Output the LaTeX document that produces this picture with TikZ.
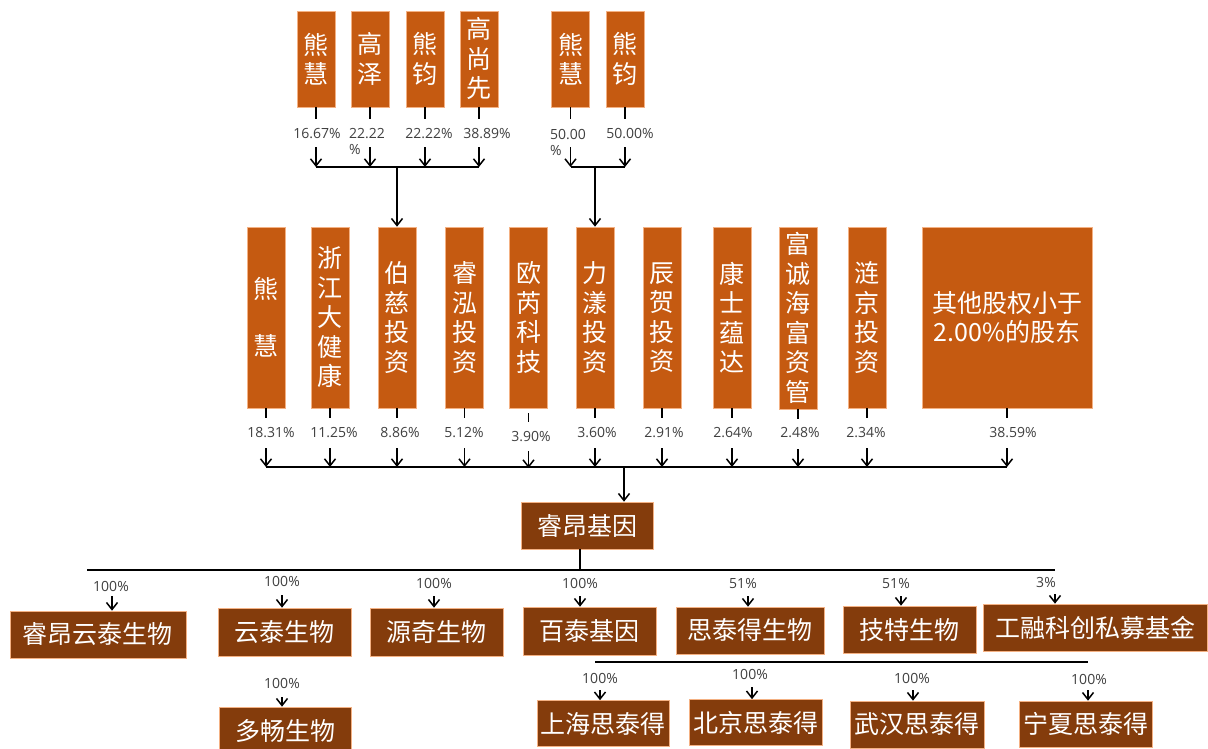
\documentclass[tikz,border=0pt]{standalone}
\usepackage{fontspec}
\setmainfont{Open Sans}
\newfontfamily\cjk{Noto Sans CJK SC}
\usetikzlibrary{arrows.meta}
\definecolor{orgbox}{HTML}{C55A11}
\definecolor{brnbox}{HTML}{843C0C}
\definecolor{edgec}{HTML}{F4B183}
\definecolor{labc}{HTML}{404040}
\tikzset{
 vbox/.style={fill=orgbox, draw=edgec, line width=0.6pt, text=white, inner sep=0pt, align=center, font=\cjk\fontsize{25}{29.5}\selectfont, minimum width=38pt},
 hbox/.style={fill=brnbox, draw=edgec, line width=0.6pt, text=white, inner sep=0pt, font=\cjk\fontsize{25}{29.5}\selectfont},
 pct/.style={text=labc, inner sep=1pt, font=\fontsize{14}{16}\selectfont},
 arr/.style={-{Straight Barb[length=7pt,width=11pt]}, line width=1.5pt},
 tick/.style={line width=1.5pt},
 bar/.style={line width=2pt},
}
\begin{document}
\begin{tikzpicture}[x=1pt,y=1pt]
\useasboundingbox (0,0) rectangle (1208,-749);
\fill[white] (0,0) rectangle (1208,-749);

% ---- top shareholders
\node[vbox, minimum height=96pt] (t1) at (316,-59) {熊\\慧};
\node[vbox, minimum height=96pt] (t2) at (370,-59) {高\\泽};
\node[vbox, minimum height=96pt] (t3) at (425,-59) {熊\\钧};
\node[vbox, minimum height=96pt] (t4) at (479,-59) {高\\尚\\先};
\node[vbox, minimum height=96pt] (t5) at (570.5,-59) {熊\\慧};
\node[vbox, minimum height=96pt] (t6) at (625,-59) {熊\\钧};

\node[pct] (q1) at (317,-134) {16.67\%};
\node[pct, align=left, anchor=west] (q2) at (348,-142) {22.22\\\%};
\node[pct] (q3) at (429,-134) {22.22\%};
\node[pct] (q4) at (487,-134) {38.89\%};
\node[pct, align=left, anchor=west] (q5) at (549,-142) {50.00\\\%};
\node[pct] (q6) at (630,-134) {50.00\%};

\coordinate (yA) at (0,-167);
\foreach \n in {t1,t2,t3,t4,t5,t6}{
  \draw[tick] (\n.south) -- ++(0,-12);
  \draw[arr] ([yshift=-40pt]\n.south) -- (\n.south |- yA);
}
\draw[bar, line width=1.7pt] (t1.south |- yA) -- (t4.south |- yA);
\draw[bar, line width=1.7pt] (t5.south |- yA) -- (t6.south |- yA);

% ---- middle shareholders
\node[vbox, minimum height=181pt] (m1) at (266,-317.5) {熊\\[27.5pt]慧};
\node[vbox, minimum height=181pt] (m2) at (330,-317.5) {浙\\江\\大\\健\\康};
\node[vbox, minimum height=181pt] (m3) at (397,-317.5) {伯\\慈\\投\\资};
\node[vbox, minimum height=181pt] (m4) at (464.5,-317.5) {睿\\泓\\投\\资};
\node[vbox, minimum height=181pt] (m5) at (528.5,-317.5) {欧\\芮\\科\\技};
\node[vbox, minimum height=181pt] (m6) at (595,-317.5) {力\\漾\\投\\资};
\node[vbox, minimum height=181pt] (m7) at (662,-317.5) {辰\\贺\\投\\资};
\node[vbox, minimum height=181pt] (m8) at (732,-317.5) {康\\士\\蕴\\达};
\node[vbox, minimum height=182pt] (m9) at (798,-318) {富\\诚\\海\\富\\资\\管};
\node[vbox, minimum height=181pt] (m10) at (867,-317.5) {涟\\京\\投\\资};
\node[vbox, minimum height=181pt, minimum width=170pt] (m11) at (1007,-317.5) {其他股权小于\\2.00\%的股东};

\draw[arr] (m3.north |- yA) -- (m3.north);
\draw[arr] (m6.north |- yA) -- (m6.north);

\node[pct] (n1) at (271,-433) {18.31\%};
\node[pct] (n2) at (334,-433) {11.25\%};
\node[pct] (n3) at (400,-433) {8.86\%};
\node[pct] (n4) at (464,-433) {5.12\%};
\node[pct] (n5) at (531,-437) {3.90\%};
\node[pct] (n6) at (597,-433) {3.60\%};
\node[pct] (n7) at (664,-433) {2.91\%};
\node[pct] (n8) at (733,-433) {2.64\%};
\node[pct] (n9) at (800,-433) {2.48\%};
\node[pct] (n10) at (866,-433) {2.34\%};
\node[pct] (n11) at (1013,-433) {38.59\%};

\coordinate (yM) at (0,-467);
\foreach \n in {m1,m2,m3,m4,m6,m7,m8,m9,m10,m11}{
  \draw[tick] (\n.south) -- ++(0,-10);
  \draw[arr] ([yshift=-40pt]\n.south) -- (\n.south |- yM);
}
\draw[tick] ([yshift=-5pt]m5.south) -- ++(0,-9);
\draw[arr] ([yshift=-43pt]m5.south) -- ([yshift=-1pt]m5.south |- yM);
\draw[bar] (m1.south |- yM) -- (m11.south |- yM);

% ---- company
\node[hbox, minimum width=132pt, minimum height=47pt] (r) at (587,-525.5) {睿昂基因};
\coordinate (jr) at (624,-467);
\draw[arr] (jr) -- (jr |- r.north);

\coordinate (jb) at (580,-570);
\draw[tick, line width=1.7pt] (jb |- r.south) -- (jb);
\coordinate (bL) at (87,-570);
\coordinate (bR) at (1055,-570);
\draw[bar] (bL) -- (bR);

% ---- subsidiaries
\node[hbox, minimum width=176pt, minimum height=47pt] (c1) at (98,-634.5) {睿昂云泰生物};
\node[hbox, minimum width=133pt, minimum height=48pt] (c2) at (284.5,-632) {云泰生物};
\node[hbox, minimum width=133pt, minimum height=48pt] (c3) at (436.5,-632) {源奇生物};
\node[hbox, minimum width=133pt, minimum height=48pt] (c4) at (589.5,-631) {百泰基因};
\node[hbox, minimum width=148pt, minimum height=47pt] (c5) at (750,-630.5) {思泰得生物};
\node[hbox, minimum width=133pt, minimum height=47pt] (c6) at (909.5,-629.5) {技特生物};
\node[hbox, minimum width=224pt, minimum height=47pt] (c7) at (1095,-627.5) {工融科创私募基金};

\node[pct] (p1) at (111,-586) {100\%};
\node[pct] (p2) at (282,-581) {100\%};
\node[pct] (p3) at (434,-583) {100\%};
\node[pct] (p4) at (580,-583) {100\%};
\node[pct] (p5) at (743,-583) {51\%};
\node[pct] (p6) at (896,-583) {51\%};
\node[pct] (p7) at (1046,-582) {3\%};

\coordinate (a1) at (112,-596);
\coordinate (a2) at (282,-595);
\coordinate (a3) at (434,-596);
\coordinate (a4) at (580,-596);
\coordinate (a5) at (748,-596);
\coordinate (a6) at (901,-596);
\coordinate (a7) at (1055,-594);
\draw[arr] (a1) -- (a1 |- c1.north);
\draw[arr] (a2) -- (a2 |- c2.north);
\draw[arr] (a3) -- (a3 |- c3.north);
\draw[arr] (a4) -- (a4 |- c4.north);
\draw[arr] (a5) -- (a5 |- c5.north);
\draw[arr] (a6) -- (a6 |- c6.north);
\draw[arr] (a7) -- (a7 |- c7.north);

% ---- second level
\node[hbox, minimum width=132pt, minimum height=47pt] (d1) at (285,-730.5) {多畅生物};
\node[pct] (pd) at (282,-683) {100\%};
\coordinate (ad) at (282,-697);
\draw[arr] (ad) -- (ad |- d1.north);

\coordinate (b2L) at (595,-662);
\coordinate (b2R) at (1088,-662);
\draw[bar] (b2L) -- (b2R);

\node[hbox, minimum width=132pt, minimum height=46pt] (g1) at (603,-723.5) {上海思泰得};
\node[hbox, minimum width=133pt, minimum height=46pt] (g2) at (755.5,-722.5) {北京思泰得};
\node[hbox, minimum width=134pt, minimum height=47pt] (g3) at (917,-724.5) {武汉思泰得};
\node[hbox, minimum width=133pt, minimum height=46pt] (g4) at (1085.5,-724) {宁夏思泰得};

\node[pct] (h1) at (600,-678) {100\%};
\node[pct] (h2) at (750,-674) {100\%};
\node[pct] (h3) at (912,-678) {100\%};
\node[pct] (h4) at (1089,-679) {100\%};

\coordinate (e1) at (600,-690);
\coordinate (e2) at (752,-687);
\coordinate (e3) at (913,-690);
\coordinate (e4) at (1088,-690);
\draw[arr] (e1) -- (e1 |- g1.north);
\draw[arr] (e2) -- (e2 |- g2.north);
\draw[arr] (e3) -- (e3 |- g3.north);
\draw[arr] (e4) -- (e4 |- g4.north);
\end{tikzpicture}
\end{document}
